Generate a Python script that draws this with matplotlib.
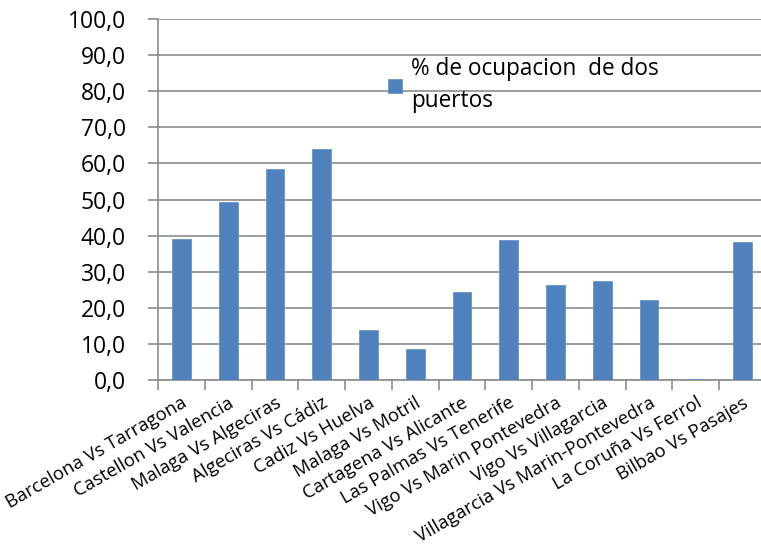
import matplotlib.pyplot as plt
import numpy as np

categorias = [
    "Barcelona Vs Tarragona", "Castellon Vs Valencia", "Malaga Vs Algeciras",
    "Algeciras Vs Cádiz", "Cadiz Vs Huelva", "Malaga Vs Motril",
    "Cartagena Vs Alicante", "Las Palmas Vs Tenerife", "Vigo Vs Marin Pontevedra",
    "Vigo Vs Villagarcia", "Villagarcia Vs Marin-Pontevedra",
    "La Coruña Vs Ferrol", "Bilbao Vs Pasajes",
]
ocupacion = [39.1, 49.3, 58.4, 64.0, 13.9, 8.6, 24.4, 38.8, 26.3, 27.4, 22.2, 0.3, 38.2]
yticks = [0, 10, 20, 30, 40, 50, 60, 70, 80, 90, 100]
serie = "% de ocupacion  de dos\npuertos"

plt.rcParams['font.family'] = ['Open Sans', 'DejaVu Sans']

fig = plt.figure(figsize=(7.61, 5.51), dpi=100)
W, H = 761, 551
ax = fig.add_axes([158 / W, 1 - 380 / H, (766 - 158) / W, (380 - 19) / H])

x = np.arange(len(categorias))
ax.bar(x, ocupacion, width=0.4, color="#4f81bd", edgecolor="#6a95c8",
       linewidth=0.6, zorder=3, label=serie)

ax.set_xlim(-0.5, len(categorias) - 0.5)
ax.set_ylim(0, 100)
ax.set_yticks(yticks)
ax.set_yticklabels([f"{v:.1f}".replace(".", ",") for v in yticks], fontsize=16.5)
ax.yaxis.grid(True, color="#8c8c8c", linewidth=1.2, zorder=0)
ax.set_axisbelow(True)

ax.set_xticks(np.arange(len(categorias) + 1) - 0.5, minor=False)
ax.set_xticklabels([])
ax.set_xticks(x, minor=True)
ax.set_xticklabels(categorias, minor=True, rotation=30, ha="right",
                   rotation_mode="anchor", fontsize=13.3)
ax.tick_params(axis="x", which="minor", length=0, pad=10)
ax.tick_params(axis="x", which="major", length=7, color="#8c8c8c", width=1.2)
ax.tick_params(axis="y", length=7, color="#8c8c8c", width=1.2, pad=16)

for side in ["top", "right"]:
    ax.spines[side].set_visible(False)
for side in ["left", "bottom"]:
    ax.spines[side].set_color("#8c8c8c")
    ax.spines[side].set_linewidth(1.2)

leg = ax.legend(loc="upper left", bbox_to_anchor=(221 / 608, 1 - 29 / 361),
                frameon=False, fontsize=16.3, handlelength=0.6, handleheight=0.6,
                handletextpad=0.4, borderaxespad=0)
for t in leg.get_texts():
    t.set_linespacing(1.45)

fig.savefig("out.png", dpi=100)
